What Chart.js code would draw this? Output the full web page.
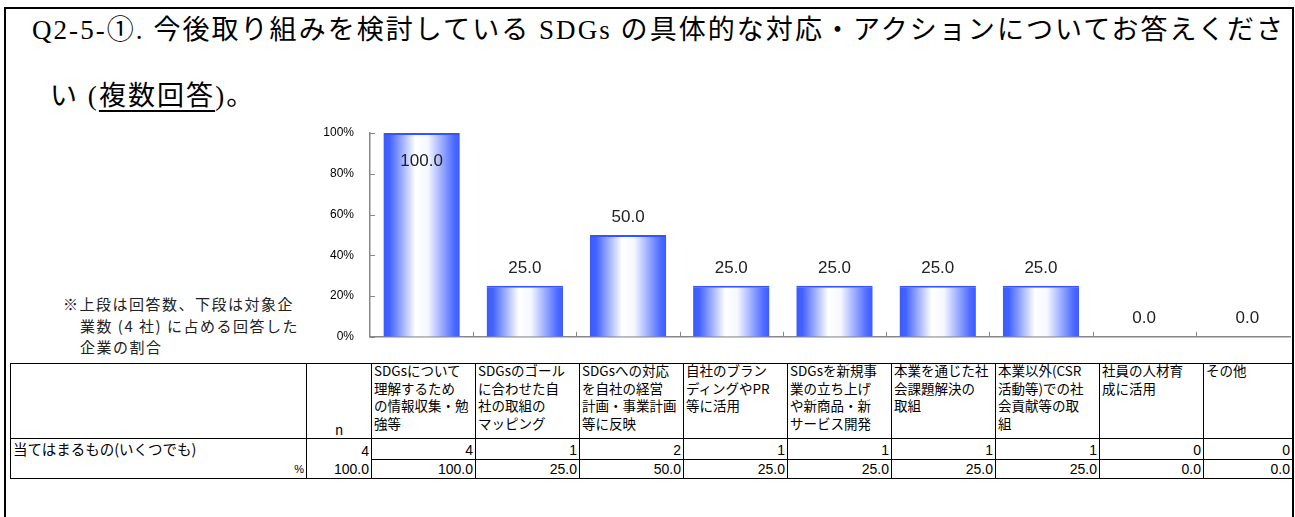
<!DOCTYPE html>
<html lang="ja">
<head>
<meta charset="UTF-8">
<title>Q2-5-①</title>
<style>
    html, body { margin: 0; padding: 0; background: #fff; }
    .page { position: relative; width: 1295px; height: 517px; overflow: hidden; background: #fff; }
    .frame { position: absolute; left: 4px; top: 7px; width: 1286px; height: 530px; border: 2px solid #000; }
    .title { position: absolute; white-space: nowrap; color: #000; font-family: "Liberation Serif", "Noto Sans CJK JP", serif; font-size: 27px; line-height: 36px; }
    .title u { text-decoration-thickness: 2px; text-underline-offset: 5px; }
    .note { position: absolute; white-space: nowrap; font-family: "Noto Sans CJK JP", sans-serif; font-size: 15px; line-height: 21.5px; letter-spacing: 1.5px; color: #222; }
    .chart-box { position: absolute; left: 0; top: 0; width: 1291px; height: 360px; overflow: hidden; }
    .table-box { position: absolute; left: 10px; top: 363px; width: 1282px; height: 130px; overflow: hidden; }
    table.tbl { border-collapse: collapse; table-layout: fixed; font-family: "Noto Sans CJK JP", sans-serif; font-size: 13.5px; color: #000; }
    table.tbl td { padding: 0 2px; border: 1px solid #000; white-space: nowrap; overflow: hidden; vertical-align: top; }
    table.tbl tr.head td { height: 74px; line-height: 17.5px; white-space: pre-line; }
    table.tbl tr.head td.cat div { margin-top: -2px; }
    table.tbl tr.head td.cat + td.cat { border-left: 1px dotted #444; }
    table.tbl td.num { text-align: right; vertical-align: bottom; font-family: "Liberation Sans", Arial, sans-serif; font-size: 14px; line-height: 18px; }
    table.tbl tr.cnt td { height: 20px; }
    table.tbl tr.pct td { height: 18px; }
    table.tbl tr.cnt td.keep { border-bottom: none; }
    table.tbl tr.pct td.keep { border-top: none; }
</style>
</head>
<body>
<div class="page">
    <div class="frame"></div>
    <div class="title" id="title1" style="left:32px; top:12px;">Q2-5-①. 今後取り組みを検討している SDGs の具体的な対応・アクションについてお答えくださ</div>
    <div class="title" id="title2" style="left:50px; top:78px;">い (<u>複数回答</u>)。</div>

    <div class="note" style="left:63px; top:293px;">※上段は回答数、下段は対象企</div>
    <div class="note" style="left:80px; top:315px;">業数 (4 社) に占める回答した</div>
    <div class="note" style="left:80px; top:336px;">企業の割合</div>

    <div class="chart-box">
        <canvas id="sdgs-chart" width="1310" height="360"></canvas>
    </div>
    <div class="table-box">
        <table class="tbl" id="sdgs-table"></table>
    </div>
</div>

<script src="https://cdn.jsdelivr.net/npm/chart.js"></script>
<script>
// 回答データ
const rowLabel = '当てはまるもの(いくつでも)';
const nTotal = 4;
const categories = [
    'SDGsについて\n理解するため\nの情報収集・勉\n強等',
    'SDGsのゴール\nに合わせた自\n社の取組の\nマッピング',
    'SDGsへの対応\nを自社の経営\n計画・事業計画\n等に反映',
    '自社のブラン\nディングやPR\n等に活用',
    'SDGsを新規事\n業の立ち上げ\nや新商品・新\nサービス開発',
    '本業を通じた社\n会課題解決の\n取組',
    '本業以外(CSR\n活動等)での社\n会貢献等の取\n組',
    '社員の人材育\n成に活用',
    'その他'
];
const counts = [4, 1, 2, 1, 1, 1, 1, 0, 0];
const percents = [100.0, 25.0, 50.0, 25.0, 25.0, 25.0, 25.0, 0.0, 0.0];
const yTicks = [0, 20, 40, 60, 80, 100];

// タイトル1行目を枠幅いっぱいに揃える
(function () {
    const t1 = document.getElementById('title1');
    const t2 = document.getElementById('title2');
    const target = 1253;
    const n = t1.textContent.length;
    const ls = (target - t1.getBoundingClientRect().width) / n;
    t1.style.letterSpacing = ls + 'px';
    t2.style.letterSpacing = ls + 'px';
})();

// 下の集計表 (最後の列は枠で切れるので狭い)
(function () {
    const tbl = document.getElementById('sdgs-table');
    const colW = 104;
    const lastW = 1282 - 296 - 65 - colW * (categories.length - 1);
    let cols = '<colgroup><col style="width:296px"><col style="width:65px">';
    categories.forEach((c, i) => {
        cols += '<col style="width:' + (i === categories.length - 1 ? lastW : colW) + 'px">';
    });
    cols += '</colgroup>';
    let head = '<tr class="head"><td></td><td style="text-align:center;vertical-align:bottom;">n</td>';
    categories.forEach(c => { head += '<td class="cat"><div>' + c + '</div></td>'; });
    head += '</tr>';
    let cnt = '<tr class="cnt"><td class="keep" style="font-size:14.5px;line-height:20px;">' + rowLabel + '</td><td class="num keep">' + nTotal + '</td>';
    counts.forEach(v => { cnt += '<td class="num">' + v + '</td>'; });
    cnt += '</tr>';
    let pct = '<tr class="pct"><td class="num keep" style="font-size:11px;">%</td><td class="num keep">' + (100).toFixed(1) + '</td>';
    percents.forEach(v => { pct += '<td class="num">' + v.toFixed(1) + '</td>'; });
    pct += '</tr>';
    tbl.innerHTML = cols + head + cnt + pct;
    tbl.style.width = '1282px';
})();

// 棒の横グラデーション
function barFill(context) {
    const chart = context.chart;
    const xs = chart.scales.x;
    if (context.dataIndex === undefined || !xs || !chart.chartArea) return '#4060ff';
    const cx = xs.getPixelForValue(context.dataIndex);
    const w = xs.width / categories.length * 0.74;
    const g = chart.ctx.createLinearGradient(cx - w / 2, 0, cx + w / 2, 0);
    g.addColorStop(0, '#3a5aff');
    g.addColorStop(0.08, '#4262ff');
    g.addColorStop(0.42, '#ffffff');
    g.addColorStop(0.58, '#f6f8ff');
    g.addColorStop(0.92, '#4f6dff');
    g.addColorStop(1, '#3a5aff');
    return g;
}

// 内向きの目盛り
const innerTicks = {
    id: 'innerTicks',
    afterDraw(chart) {
        const {ctx, chartArea: a, scales: {x, y}} = chart;
        ctx.save();
        ctx.strokeStyle = '#888';
        ctx.lineWidth = 1;
        ctx.beginPath();
        yTicks.forEach(v => {
            const py = Math.round(y.getPixelForValue(v)) + 0.5;
            ctx.moveTo(a.left, py);
            ctx.lineTo(a.left + 5, py);
        });
        const step = x.width / categories.length;
        for (let i = 1; i <= categories.length; i++) {
            const px = Math.round(a.left + step * i) + 0.5;
            ctx.moveTo(px, a.bottom);
            ctx.lineTo(px, a.bottom - 5);
        }
        ctx.stroke();
        ctx.restore();
    }
};

// 棒の値ラベル
const valueLabels = {
    id: 'valueLabels',
    afterDatasetsDraw(chart) {
        const ctx = chart.ctx;
        const meta = chart.getDatasetMeta(0);
        ctx.save();
        ctx.font = '17px "Liberation Sans", Arial, sans-serif';
        ctx.fillStyle = '#222';
        ctx.textAlign = 'center';
        ctx.textBaseline = 'middle';
        meta.data.forEach((bar, i) => {
            const v = percents[i];
            const py = v >= 90 ? bar.y + 28 : bar.y - 18;
            ctx.fillText(v.toFixed(1), bar.x, py);
        });
        ctx.restore();
    }
};

new Chart(document.getElementById('sdgs-chart'), {
    type: 'bar',
    data: {
        labels: categories,
        datasets: [{
            data: percents,
            backgroundColor: barFill,
            borderColor: '#3355ff',
            borderWidth: {top: 2, left: 0, right: 0, bottom: 0},
            borderSkipped: 'bottom',
            barPercentage: 0.74,
            categoryPercentage: 1
        }]
    },
    options: {
        responsive: false,
        animation: false,
        layout: { padding: { left: 290, right: 11, top: 133, bottom: 10 } },
        plugins: { legend: { display: false }, tooltip: { enabled: false } },
        scales: {
            x: {
                grid: { display: false, drawTicks: false },
                ticks: { display: false },
                border: { display: true, color: '#888', width: 1.5 },
                afterFit(s) { s.height = 5; }
            },
            y: {
                min: 0,
                max: 100,
                grid: { display: false, drawTicks: false },
                border: { display: true, color: '#888', width: 1.5 },
                ticks: {
                    stepSize: 20,
                    padding: 16,
                    color: '#000',
                    font: { family: '"Liberation Sans", Arial, sans-serif', size: 12 },
                    callback: v => v + '%'
                },
                afterFit(s) { s.width = 80; }
            }
        }
    },
    plugins: [innerTicks, valueLabels]
});
</script>
</body>
</html>
